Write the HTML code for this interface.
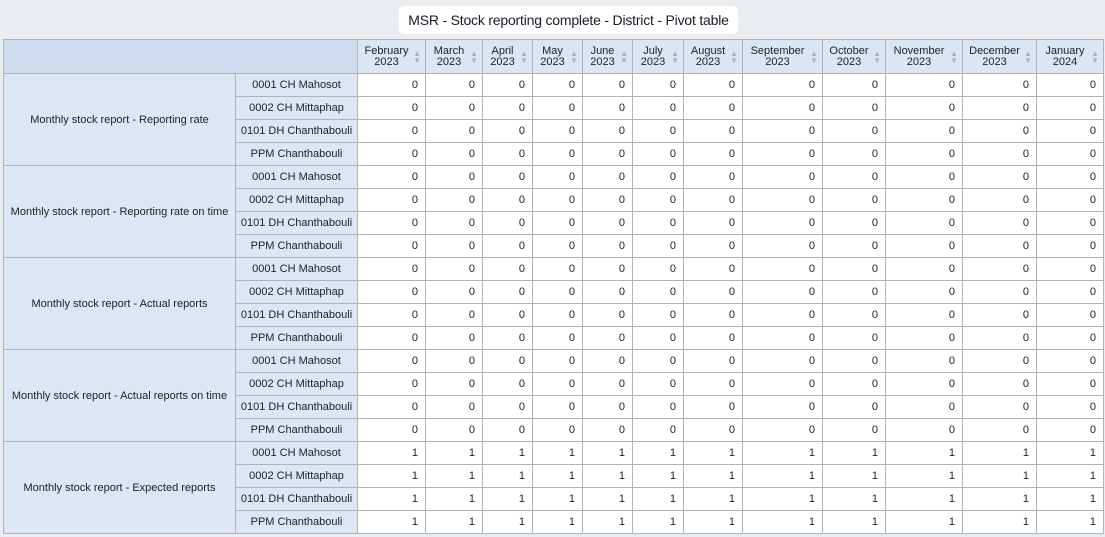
<!DOCTYPE html>
<html><head><meta charset="utf-8">
<style>
body{margin:0;width:1105px;height:537px;background:#e9edf1;font-family:"Liberation Sans",sans-serif;overflow:hidden;position:relative}
#title{position:absolute;left:399px;top:6px;width:339px;height:28px;background:#fff;border-radius:5px;font-size:14px;line-height:28px;text-align:center;color:#1a1a2a;white-space:nowrap;letter-spacing:-0.2px}
table{position:absolute;left:3px;top:39px;border-collapse:collapse;table-layout:fixed;font-size:11px;color:#222}
td,th{border:1px solid #b2b2b2;padding:0 4px;overflow:hidden;white-space:nowrap}
th{background:#dbe5f6;font-weight:normal;height:33px;line-height:11px;position:relative;padding-right:14px}
th.corner{background:#cfdcef}
th .s{position:absolute;right:4px;top:10px;font-size:8px;line-height:7px;color:#a8b0ba}
td{height:22px;background:#fff;text-align:right;padding-right:7px}
td.g{background:#dce6f7;text-align:center;padding-right:4px}
td.r{background:#dce6f7;text-align:center;padding-right:4px}
</style></head><body>
<div id="title">MSR - Stock reporting complete - District - Pivot table</div>
<table id="pt"></table>
<script>
const periods=["February|2023","March|2023","April|2023","May|2023","June|2023","July|2023","August|2023","September|2023","October|2023","November|2023","December|2023","January|2024"];
const dataItems=["Monthly stock report - Reporting rate","Monthly stock report - Reporting rate on time","Monthly stock report - Actual reports","Monthly stock report - Actual reports on time","Monthly stock report - Expected reports"];
const orgUnits=["0001 CH Mahosot","0002 CH Mittaphap","0101 DH Chanthabouli","PPM Chanthabouli"];
const itemValues=[0,0,0,0,1];
const widths=[232,122,68,57,50,50,50,51,59,80,63,77,74,67];
const t=document.getElementById('pt');
const cg=document.createElement('colgroup');
widths.forEach(w=>{const c=document.createElement('col');c.style.width=w+'px';cg.appendChild(c);});
t.appendChild(cg);
const hr=document.createElement('tr');
const corner=document.createElement('th');corner.colSpan=2;corner.className='corner';


hr.appendChild(corner);
periods.forEach(p=>{const th=document.createElement('th');const [m,y]=p.split('|');
th.innerHTML=m+'<br>'+y+'<span class="s">▲<br>▼</span>';


hr.appendChild(th);});
t.appendChild(hr);
dataItems.forEach((d,i)=>{orgUnits.forEach((o,j)=>{const tr=document.createElement('tr');
if(j===0){const g=document.createElement('td');g.rowSpan=orgUnits.length;g.className='g';g.textContent=d;


tr.appendChild(g);}
const r=document.createElement('td');r.className='r';r.textContent=o;


tr.appendChild(r);
periods.forEach(()=>{const c=document.createElement('td');c.textContent=itemValues[i];


tr.appendChild(c);});
t.appendChild(tr);});});
</script>
</body></html>
